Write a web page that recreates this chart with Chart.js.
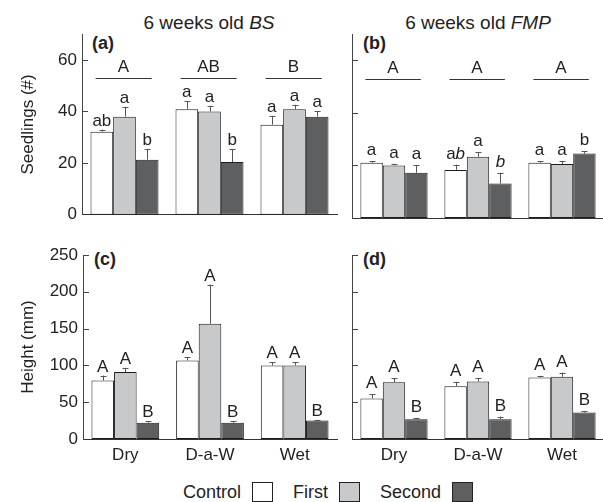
<!DOCTYPE html>
<html>
<head>
<meta charset="utf-8">
<script src="https://cdn.jsdelivr.net/npm/chart.js@4.4.0/dist/chart.umd.min.js"></script>
<style>
  html, body { margin: 0; padding: 0; background: #fff; overflow: hidden; }
  body { width: 603px; height: 502px; position: relative; font-family: "Liberation Sans", Arial, sans-serif; color: #222; }
  canvas { position: absolute; }
  .title { position: absolute; font-size: 19px; line-height: 1; white-space: nowrap; transform: translate(-50%, -50%); }
  .plab { position: absolute; font-weight: bold; font-size: 18px; line-height: 1; transform: translateY(-50%); }
  .legend { position: absolute; left: 183px; top: 492px; transform: translateY(-50%); font-size: 18px; line-height: 1; display: flex; align-items: center; white-space: nowrap; }
  .sw { display: inline-block; width: 21px; height: 20px; border: 1px solid #222; box-sizing: border-box; margin: 0 20px 0 11px; }
</style>
</head>
<body>
<div class="title" style="left:209px; top:22px;">6 weeks old <i>BS</i></div>
<div class="title" style="left:478px; top:22px;">6 weeks old <i>FMP</i></div>
<div class="plab" style="left:92px; top:43px;">(a)</div>
<div class="plab" style="left:363px; top:43px;">(b)</div>
<div class="plab" style="left:94px; top:259px;">(c)</div>
<div class="plab" style="left:363px; top:259px;">(d)</div>

<canvas id="chartA" width="340" height="230" style="left:0; top:0;"></canvas>
<canvas id="chartB" width="265" height="230" style="left:340px; top:0;"></canvas>
<canvas id="chartC" width="340" height="245" style="left:0; top:230px;"></canvas>
<canvas id="chartD" width="265" height="245" style="left:340px; top:230px;"></canvas>

<div class="legend">
  <span>Control</span><span class="sw" style="background:#ffffff"></span>
  <span>First</span><span class="sw" style="background:#c8c9cb"></span>
  <span>Second</span><span class="sw" style="background:#5e5f61; margin-right:0"></span>
</div>

<script>
const categories = ['Dry', 'D-a-W', 'Wet'];
const seriesNames = ['Control', 'First', 'Second'];

// (a) seedlings, 6 weeks old BS
const bsSeedControl = [32.2, 40.9, 34.9];
const bsSeedFirst = [38, 40, 40.9];
const bsSeedSecond = [21.3, 20.4, 38];
const bsSeedControlSE = [0.8, 3.1, 3.4];
const bsSeedFirstSE = [3.8, 2.2, 1.7];
const bsSeedSecondSE = [4.2, 5.1, 2];
const bsSeedControlLet = ['ab', 'a', 'a'];
const bsSeedFirstLet = ['a', 'a', 'a'];
const bsSeedSecondLet = ['b', 'b', 'a'];
const bsGroupLet = ['A', 'AB', 'B'];

// (b) seedlings, 6 weeks old FMP  ("_" = next letter italic)
const fmpSeedControl = [21, 18.3, 21];
const fmpSeedFirst = [20, 23.3, 20.5];
const fmpSeedSecond = [17.2, 13.1, 24.5];
const fmpSeedControlSE = [0.5, 2, 0.7];
const fmpSeedFirstSE = [0.6, 1.8, 1.2];
const fmpSeedSecondSE = [2.8, 4.1, 0.8];
const fmpSeedControlLet = ['a', 'a_b', 'a'];
const fmpSeedFirstLet = ['a', 'a', 'a'];
const fmpSeedSecondLet = ['a', '_b', 'b'];
const fmpGroupLet = ['A', 'A', 'A'];

// (c) height, BS
const bsHeightControl = [79.4, 106.7, 99.9];
const bsHeightFirst = [90.9, 156.7, 100];
const bsHeightSecond = [22.2, 22.2, 25];
const bsHeightControlSE = [6.8, 4.6, 4.6];
const bsHeightFirstSE = [5.8, 53.1, 4.5];
const bsHeightSecondSE = [1.8, 1.8, 1];

// (d) height, FMP
const fmpHeightControl = [55, 71.8, 83.5];
const fmpHeightFirst = [77.2, 78.1, 84.5];
const fmpHeightSecond = [26.8, 26.8, 35.9];
const fmpHeightControlSE = [5.9, 5.9, 2.3];
const fmpHeightFirstSE = [5.5, 4.6, 5.8];
const fmpHeightSecondSE = [1.8, 3.6, 2.2];

const heightControlLet = ['A', 'A', 'A'];
const heightFirstLet = ['A', 'A', 'A'];
const heightSecondLet = ['B', 'B', 'B'];

const seedTicks = { min: 0, max: 70, step: 20 };
const heightTicks = { min: 0, max: 250, step: 50 };

const fills = ['#ffffff', '#c8c9cb', '#5e5f61'];
const FONT = '"Liberation Sans", Arial, sans-serif';

// draw text where "_" makes the next char italic, centered at x
function drawMarked(ctx, str, x, y, size) {
  const segs = [];
  for (let i = 0; i < str.length; i++) {
    if (str[i] === '_') { segs.push({ t: str[i + 1], it: true }); i++; }
    else segs.push({ t: str[i], it: false });
  }
  let total = 0;
  segs.forEach(s => {
    ctx.font = (s.it ? 'italic ' : '') + size + 'px ' + FONT;
    s.w = ctx.measureText(s.t).width;
    total += s.w;
  });
  let cx = x - total / 2;
  segs.forEach(s => {
    ctx.font = (s.it ? 'italic ' : '') + size + 'px ' + FONT;
    ctx.fillText(s.t, cx, y);
    cx += s.w;
  });
}

const panelMarks = {
  id: 'panelMarks',
  afterDatasetsDraw(chart, args, opts) {
    const ctx = chart.ctx;
    const y = chart.scales.y, x = chart.scales.x;
    const area = chart.chartArea;
    ctx.save();
    // inward tick marks
    ctx.strokeStyle = '#444';
    ctx.lineWidth = 1;
    y.ticks.forEach(t => {
      if (t.value === 0) return;
      const py = Math.round(y.getPixelForValue(t.value)) + 0.5;
      ctx.beginPath();
      ctx.moveTo(area.left, py);
      ctx.lineTo(area.left + 6, py);
      ctx.stroke();
    });
    // error bars + letters
    ctx.fillStyle = '#222';
    ctx.textAlign = 'left';
    ctx.textBaseline = 'alphabetic';
    chart.data.datasets.forEach((ds, di) => {
      const meta = chart.getDatasetMeta(di);
      meta.data.forEach((bar, i) => {
        const top = y.getPixelForValue(ds.data[i] + opts.errors[di][i]);
        const bx = Math.round(bar.x) + 0.5;
        ctx.strokeStyle = '#555';
        ctx.beginPath();
        ctx.moveTo(bx, bar.y);
        ctx.lineTo(bx, top);
        ctx.moveTo(bx - 3, Math.round(top) + 0.5);
        ctx.lineTo(bx + 3, Math.round(top) + 0.5);
        ctx.stroke();
        drawMarked(ctx, opts.letters[di][i], bar.x, top - opts.gap, opts.size);
      });
    });
    // group letters with lines
    if (opts.groups) {
      const cw = x.getPixelForValue(1) - x.getPixelForValue(0);
      const ly = Math.round(y.getPixelForValue(opts.groupValue)) + 0.5;
      ctx.strokeStyle = '#333';
      opts.groups.forEach((g, i) => {
        const cx = x.getPixelForValue(i);
        ctx.beginPath();
        ctx.moveTo(cx - cw * 0.34, ly);
        ctx.lineTo(cx + cw * 0.32, ly);
        ctx.stroke();
        drawMarked(ctx, g, cx - 1, ly - 7, opts.size);
      });
    }
    ctx.restore();
  }
};

function makePanel(id, p) {
  const ctx = document.getElementById(id).getContext('2d');
  return new Chart(ctx, {
    type: 'bar',
    data: {
      labels: categories,
      datasets: p.values.map((v, i) => ({
        label: seriesNames[i],
        data: v,
        backgroundColor: fills[i],
        borderColor: '#1c1c1c',
        borderWidth: 1,
        borderSkipped: false
      }))
    },
    options: {
      responsive: false,
      animation: false,
      events: [],
      layout: { padding: p.padding },
      datasets: { bar: { categoryPercentage: 0.8, barPercentage: 1 } },
      plugins: {
        legend: { display: false },
        tooltip: { enabled: false },
        panelMarks: p.marks
      },
      scales: {
        x: {
          grid: { display: false, drawTicks: false },
          border: { color: '#333', width: 1 },
          ticks: { display: p.showX, padding: 6, color: '#222', font: { family: FONT, size: 17 } },
          afterFit: s => { s.height = p.xHeight; }
        },
        y: {
          min: p.ticks.min,
          max: p.ticks.max,
          grid: { display: false, drawTicks: false },
          border: { color: '#444', width: 1 },
          ticks: {
            stepSize: p.ticks.step,
            includeBounds: false,
            display: p.showY,
            padding: 5,
            color: '#222',
            font: { family: FONT, size: 17 }
          },
          title: {
            display: !!p.yTitle,
            text: p.yTitle || '',
            color: '#222',
            font: { family: FONT, size: 17 },
            padding: { top: 18, bottom: 0 }
          },
          afterFit: s => { s.width = p.yWidth; }
        }
      }
    },
    plugins: [panelMarks]
  });
}

makePanel('chartA', {
  values: [bsSeedControl, bsSeedFirst, bsSeedSecond],
  ticks: seedTicks, showX: false, showY: true, yTitle: 'Seedlings (#)',
  padding: { top: 34, right: 3, left: 0, bottom: 0 }, xHeight: 12, yWidth: 82,
  marks: {
    errors: [bsSeedControlSE, bsSeedFirstSE, bsSeedSecondSE],
    letters: [bsSeedControlLet, bsSeedFirstLet, bsSeedSecondLet],
    groups: bsGroupLet, groupValue: 53, gap: 4, size: 17
  }
});

makePanel('chartB', {
  values: [fmpSeedControl, fmpSeedFirst, fmpSeedSecond],
  ticks: seedTicks, showX: false, showY: false,
  padding: { top: 34, right: 1, left: 0, bottom: 0 }, xHeight: 12, yWidth: 12,
  marks: {
    errors: [fmpSeedControlSE, fmpSeedFirstSE, fmpSeedSecondSE],
    letters: [fmpSeedControlLet, fmpSeedFirstLet, fmpSeedSecondLet],
    groups: fmpGroupLet, groupValue: 53, gap: 6, size: 17
  }
});

makePanel('chartC', {
  values: [bsHeightControl, bsHeightFirst, bsHeightSecond],
  ticks: heightTicks, showX: true, showY: true, yTitle: 'Height (mm)',
  padding: { top: 25, right: 3, left: 0, bottom: 0 }, xHeight: 36, yWidth: 83,
  marks: {
    errors: [bsHeightControlSE, bsHeightFirstSE, bsHeightSecondSE],
    letters: [heightControlLet, heightFirstLet, heightSecondLet],
    gap: 4, size: 17
  }
});

makePanel('chartD', {
  values: [fmpHeightControl, fmpHeightFirst, fmpHeightSecond],
  ticks: heightTicks, showX: true, showY: false,
  padding: { top: 25, right: 1, left: 0, bottom: 0 }, xHeight: 36, yWidth: 12,
  marks: {
    errors: [fmpHeightControlSE, fmpHeightFirstSE, fmpHeightSecondSE],
    letters: [heightControlLet, heightFirstLet, heightSecondLet],
    gap: 6, size: 17
  }
});
</script>
</body>
</html>
